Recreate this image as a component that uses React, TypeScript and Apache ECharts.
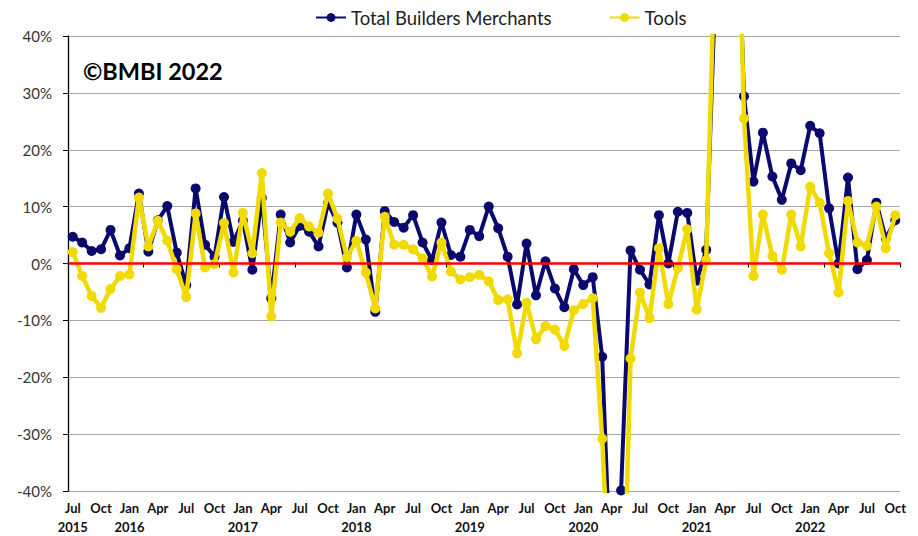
import React, { useEffect, useRef } from "react";
import * as echarts from "echarts";

const years = ["2015", "2016", "2017", "2018", "2019", "2020", "2021", "2022"];
const months = ["Jan", "Feb", "Mar", "Apr", "May", "Jun", "Jul", "Aug", "Sep", "Oct", "Nov", "Dec"];

// Jul 2015 .. Oct 2022
const categories: string[] = [];
for (let y = 0; y < years.length; y++) {
  for (let m = 0; m < 12; m++) {
    if (y === 0 && m < 6) continue;
    if (y === years.length - 1 && m > 9) continue;
    categories.push(months[m] + " " + years[y]);
  }
}

const totalBuildersMerchants = [
  4.7, 3.7, 2.2, 2.5, 5.9, 1.4,
  2.7, 12.3, 2.1, 7.6, 10.1, 1.9, -3.8, 13.2, 3.3, 1.2, 11.7, 3.8,
  7.5, -1.1, 11.5, -6.1, 8.6, 3.7, 6.6, 5.6, 3.0, 10.6, 7.2, -0.7,
  8.6, 4.2, -8.5, 9.2, 7.3, 6.3, 8.5, 3.7, 0.6, 7.2, 1.5, 1.2,
  5.9, 4.8, 10.0, 6.2, 1.2, -7.2, 3.5, -5.6, 0.4, -4.4, -7.7, -1.0,
  -3.8, -2.4, -16.4, -60, -39.9, 2.3, -1.1, -3.7, 8.5, 0.0, 9.1, 8.9,
  -3.0, 2.4, 50, 120, 80, 29.4, 14.4, 23.0, 15.3, 11.2, 17.6, 16.4,
  24.2, 22.9, 9.7, 0.0, 15.1, -1.0, 0.6, 10.7, 4.4, 7.6,
];

const tools = [
  2.0, -2.2, -5.7, -7.8, -4.5, -2.2,
  -1.9, 11.6, 3.0, 7.5, 4.0, -1.0, -5.9, 8.8, -0.7, -0.1, 7.1, -1.6,
  8.9, 1.8, 15.9, -9.3, 7.2, 5.6, 8.0, 6.5, 5.4, 12.3, 7.9, 1.1,
  4.0, -1.6, -7.9, 8.2, 3.3, 3.3, 2.5, 0.9, -2.3, 3.7, -1.4, -2.8,
  -2.4, -2.0, -3.1, -6.4, -6.3, -15.8, -6.9, -13.3, -11.0, -11.6, -14.5, -8.2,
  -7.1, -6.1, -30.8, -65, -78, -16.7, -5.1, -9.6, 2.7, -7.1, -0.8, 6.0,
  -8.1, 0.6, 60, 150, 90, 25.5, -2.2, 8.6, 1.3, -1.1, 8.6, 3.0,
  13.5, 10.7, 1.8, -5.1, 11.0, 3.7, 3.1, 10.0, 2.7, 8.5,
];

const NAVY = "#0A0A6E";
const YELLOW = "#F0DA00";
const FONT = "Lato, 'Noto Sans', sans-serif";

export default function App() {
  const ref = useRef<HTMLDivElement>(null);
  useEffect(() => {
    if (!ref.current) return;
    const chart = echarts.init(ref.current, null, { renderer: "svg" });
    chart.setOption({
      animation: false,
      backgroundColor: "#ffffff",
      textStyle: { fontFamily: FONT },
      legend: {
        data: ["Total Builders Merchants", "Tools"],
        left: 310,
        top: 3,
        itemWidth: 30,
        itemHeight: 11,
        itemGap: 57,
        textStyle: { fontSize: 18.5, color: "#222", fontFamily: FONT },
      },
      graphic: [
        {
          type: "text",
          left: 83,
          top: 59,
          z: 100,
          style: { text: "©BMBI 2022", font: "bold 23.5px Lato, sans-serif", fill: "#000" },
        },
      ],
      grid: { left: 68, right: 18, top: 36, bottom: 45, containLabel: false },
      xAxis: [
        {
          type: "category",
          data: categories,
          boundaryGap: true,
          axisLine: { show: false, onZero: false },
          axisTick: { show: false },
          axisLabel: {
            interval: 2,
            margin: 7,
            fontSize: 13,
            fontWeight: "bold",
            color: "#111",
            lineHeight: 19,
            fontFamily: FONT,
            formatter: (v: string, idx: number) => {
              const [m, y] = v.split(" ");
              if (idx === 0 || m === "Jan") return m + "\n" + y;
              return m + "\n ";
            },
          },
          splitLine: { show: false },
        },
        {
          type: "category",
          data: categories,
          boundaryGap: true,
          position: "bottom",
          z: 10,
          axisLine: { show: true, onZero: true, lineStyle: { color: "#FF0000", width: 2.5 } },
          axisTick: { show: true, length: 4, lineStyle: { color: "#000", width: 1 } },
          axisLabel: { show: false },
          splitLine: { show: false },
        },
      ],
      yAxis: {
        type: "value",
        min: -40,
        max: 40,
        interval: 10,
        axisLine: { show: true, lineStyle: { color: "#000", width: 1.3 } },
        axisTick: { show: true, length: 5, lineStyle: { color: "#000" } },
        axisLabel: {
          formatter: "{value}%",
          fontSize: 15,
          color: "#333",
          margin: 16,
          fontFamily: FONT,
        },
        splitLine: { show: true, lineStyle: { color: "#A6A6A6", width: 1 } },
      },
      series: [
        {
          name: "Total Builders Merchants",
          type: "line",
          data: totalBuildersMerchants,
          clip: true,
          symbol: "circle",
          symbolSize: 10,
          showAllSymbol: true,
          lineStyle: { color: NAVY, width: 4 },
          itemStyle: { color: NAVY },
          z: 3,
        },
        {
          name: "Tools",
          type: "line",
          data: tools,
          clip: true,
          symbol: "circle",
          symbolSize: 10,
          showAllSymbol: true,
          lineStyle: { color: YELLOW, width: 4.5 },
          itemStyle: { color: YELLOW },
          z: 4,
        },
      ],
    });
    return () => chart.dispose();
  }, []);
  return (
    <div
      ref={ref}
      style={{ position: "absolute", left: 0, top: 0, width: 918, height: 536 }}
    />
  );
}
